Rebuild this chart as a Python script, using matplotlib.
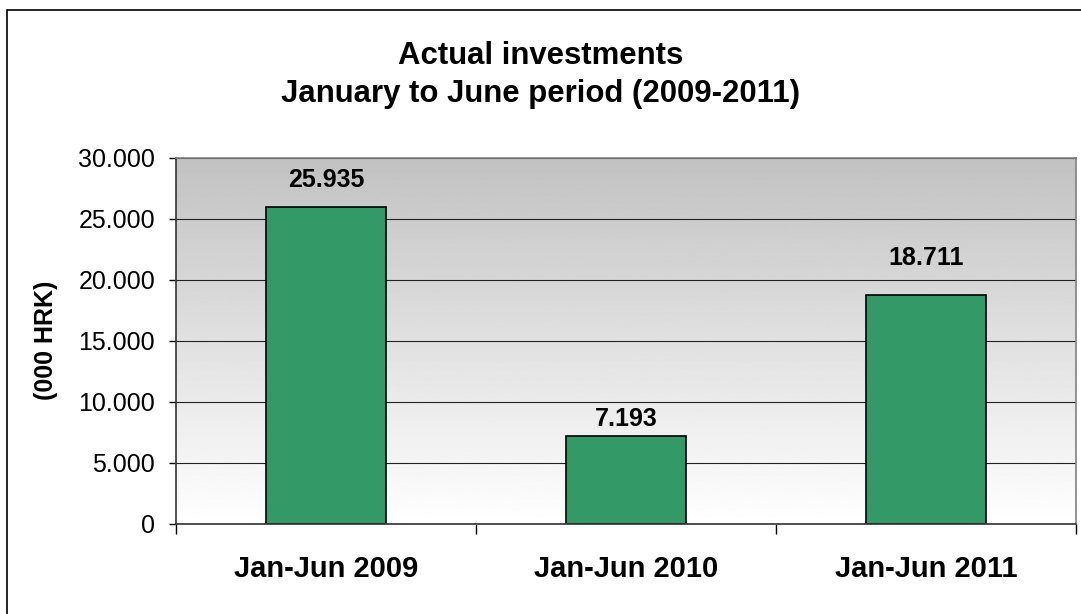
import matplotlib.pyplot as plt
import numpy as np
from matplotlib.patches import Rectangle
from matplotlib.ticker import FuncFormatter, MultipleLocator

plt.rcParams['font.family'] = ['Liberation Sans', 'DejaVu Sans']

categories = ['Jan-Jun 2009', 'Jan-Jun 2010', 'Jan-Jun 2011']
investments = [25935, 7193, 18711]  # 000 HRK
label_offsets = [14.4, 7.2, 21.6]   # points above bar top


def dotted(v, pos=None):
    return f"{v:,.0f}".replace(',', '.')


fig = plt.figure(figsize=(10.81, 6.14), dpi=100)
ax = fig.add_axes([176 / 1081, 1 - 523.5 / 614, 900 / 1081, 366 / 614])

# grey at the top fading to white at the bottom of the plot area
grad = np.linspace(0.76, 1.0, 256).reshape(-1, 1)
ax.imshow(grad, cmap='gray', vmin=0, vmax=1, extent=[0, 1, 0, 1],
          transform=ax.transAxes, aspect='auto', zorder=0)

x = np.arange(len(categories))
ax.bar(x, investments, width=0.4, color='#339966', edgecolor='black',
       linewidth=1.2, zorder=2)

for xi, v, off in zip(x, investments, label_offsets):
    ax.annotate(dotted(v), (xi, v), xytext=(0, off), textcoords='offset points',
                ha='center', va='baseline', fontsize=18, fontweight='bold')

ax.set_xlim(-0.5, len(categories) - 0.5)
ax.set_ylim(0, 30000)
ax.yaxis.set_major_locator(MultipleLocator(5000))
ax.yaxis.set_major_formatter(FuncFormatter(dotted))
ax.set_axisbelow(True)
ax.grid(axis='y', color='#222222', linewidth=0.8)

ax.set_xticks(np.arange(len(categories) + 1) - 0.5)
ax.set_xticklabels([])
ax.set_xticks(x, minor=True)
ax.set_xticklabels(categories, minor=True, fontsize=21, fontweight='bold')
ax.tick_params(axis='x', which='major', direction='out', length=7, width=1)
ax.tick_params(axis='x', which='minor', length=0, pad=23)
ax.tick_params(axis='y', direction='out', length=5, width=1, labelsize=18, pad=10)

ax.set_ylabel('(000 HRK)', fontsize=18, fontweight='bold')
ax.yaxis.set_label_coords(-0.131, 0.5)

for side in ('left', 'bottom'):
    ax.spines[side].set_color('#333333')
    ax.spines[side].set_linewidth(1.2)
for side in ('top', 'right'):
    ax.spines[side].set_color('#808080')
    ax.spines[side].set_linewidth(1.2)

fig.text(0.5, 1 - 64 / 614, 'Actual investments', ha='center', va='baseline',
         fontsize=22.4, fontweight='bold')
fig.text(0.5, 1 - 102 / 614, 'January to June period (2009-2011)', ha='center',
         va='baseline', fontsize=22.4, fontweight='bold')

# chart frame, running off the right and bottom edges
fig.patches.append(Rectangle((6.5 / 1081, -0.1), 1.2, 0.1 + 1 - 10 / 614,
                             transform=fig.transFigure, fill=False,
                             edgecolor='black', linewidth=1.2))

fig.savefig('out.png', dpi=100)
